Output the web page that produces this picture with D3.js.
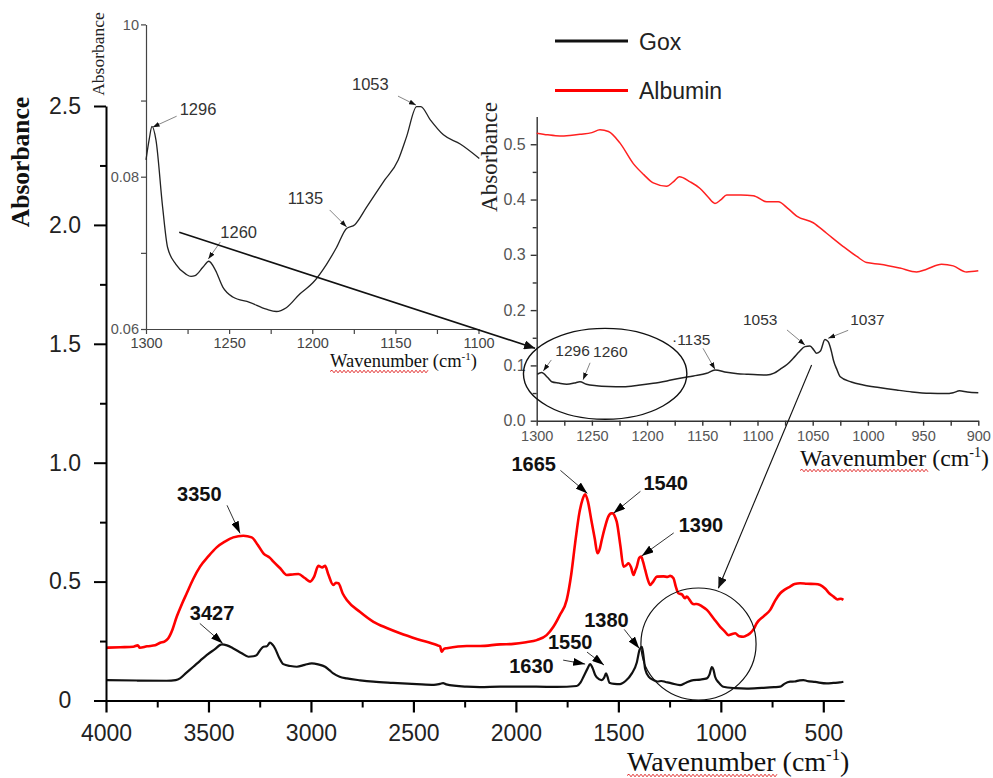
<!DOCTYPE html>
<html>
<head>
<meta charset="utf-8">
<script src="https://cdn.jsdelivr.net/npm/d3@7"></script>
<style>
  html, body { margin: 0; padding: 0; background: #fff; }
  svg { display: block; }
</style>
</head>
<body>
<svg id="chart" width="993" height="778"></svg>
<script>
// ---------- Full-range FTIR spectra (wavenumber, absorbance) ----------
const goxWavenumber = [3997,3850,3704,3660,3639,3610,3574,3540,3509,3470,3435,3410,3379,3340,3305,3280,3265,3245,3232,3215,3200,3188,3175,3155,3135,3100,3069,3030,2996,2965,2931,2910,2891,2860,2825,2760,2695,2600,2484,2400,2370,2355,2340,2240,2175,2077,2012,1900,1800,1703,1685,1670,1650,1638,1625,1613,1595,1581,1570,1560,1553,1544,1520,1492,1465,1434,1410,1397,1385,1375,1369,1350,1329,1310,1290,1270,1240,1199,1170,1134,1100,1068,1055,1044,1036,1028,1010,988,930,873,800,740,710,690,662,640,615,597,580,540,483,450,420,402];
const goxAbsorbance  = [0.086,0.084,0.083,0.086,0.093,0.115,0.142,0.168,0.191,0.215,0.236,0.232,0.219,0.200,0.184,0.186,0.191,0.215,0.226,0.228,0.243,0.235,0.219,0.180,0.153,0.145,0.142,0.150,0.156,0.152,0.142,0.128,0.114,0.100,0.093,0.085,0.079,0.074,0.069,0.066,0.070,0.073,0.068,0.058,0.056,0.058,0.058,0.058,0.057,0.061,0.075,0.100,0.135,0.153,0.135,0.107,0.090,0.086,0.095,0.114,0.100,0.075,0.070,0.069,0.082,0.114,0.160,0.212,0.226,0.170,0.131,0.098,0.086,0.080,0.082,0.078,0.072,0.065,0.075,0.086,0.088,0.093,0.110,0.140,0.130,0.100,0.075,0.058,0.052,0.050,0.053,0.056,0.058,0.070,0.079,0.080,0.085,0.086,0.082,0.078,0.072,0.074,0.076,0.079];

const albWavenumber = [3997,3930,3867,3845,3835,3800,3760,3736,3715,3696,3675,3655,3630,3606,3575,3541,3500,3460,3420,3379,3330,3289,3260,3232,3200,3183,3150,3118,3090,3061,3030,3004,2985,2964,2945,2931,2915,2891,2878,2866,2845,2825,2760,2695,2630,2565,2480,2386,2370,2362,2350,2337,2240,2175,2077,2012,1950,1898,1850,1817,1785,1752,1730,1711,1690,1675,1662,1648,1632,1615,1602,1590,1581,1565,1549,1535,1527,1515,1508,1490,1475,1460,1451,1438,1426,1418,1410,1398,1389,1380,1369,1355,1345,1330,1312,1280,1260,1247,1231,1220,1207,1190,1175,1166,1150,1141,1130,1117,1090,1068,1035,1003,980,963,945,930,910,890,870,857,840,825,790,759,735,710,690,662,640,613,580,540,515,490,470,450,430,415,402];
const albAbsorbance  = [0.222,0.224,0.226,0.232,0.222,0.228,0.232,0.243,0.248,0.262,0.300,0.352,0.405,0.451,0.510,0.563,0.607,0.644,0.668,0.686,0.693,0.686,0.655,0.619,0.600,0.584,0.556,0.528,0.530,0.532,0.515,0.500,0.520,0.566,0.560,0.566,0.530,0.486,0.495,0.493,0.450,0.423,0.372,0.331,0.305,0.283,0.258,0.233,0.228,0.205,0.218,0.220,0.229,0.229,0.236,0.238,0.245,0.254,0.275,0.310,0.360,0.423,0.530,0.661,0.790,0.845,0.867,0.835,0.759,0.680,0.619,0.640,0.675,0.730,0.773,0.787,0.787,0.770,0.752,0.650,0.563,0.570,0.577,0.560,0.528,0.545,0.563,0.600,0.605,0.585,0.549,0.505,0.486,0.500,0.521,0.522,0.520,0.524,0.514,0.480,0.451,0.446,0.430,0.437,0.420,0.409,0.405,0.406,0.395,0.381,0.345,0.310,0.290,0.275,0.280,0.283,0.270,0.268,0.275,0.283,0.300,0.325,0.355,0.381,0.420,0.451,0.465,0.479,0.490,0.493,0.491,0.490,0.486,0.470,0.450,0.437,0.425,0.428,0.423];

// ---------- Fingerprint region, 1300-900 cm-1 ----------
const regionWavenumber = [1299.5,1295.6,1290,1286.4,1280,1272.8,1266,1260.8,1255,1245.7,1235,1221.5,1208,1194.4,1182,1170.2,1158,1146,1138.5,1128,1118,1109.8,1100,1091.7,1085,1079.6,1073,1067.6,1062,1057,1052.5,1049,1046.5,1043,1038.9,1036,1033,1031.3,1028,1025.3,1015,1004.2,990,974,960,943.8,930,922.7,917,910,900];
const regionGox = [0.084,0.087,0.078,0.0705,0.068,0.066,0.068,0.0705,0.066,0.0633,0.062,0.0615,0.064,0.0676,0.072,0.0767,0.081,0.0857,0.0917,0.0875,0.085,0.084,0.083,0.0826,0.086,0.093,0.102,0.113,0.125,0.134,0.135,0.128,0.122,0.126,0.147,0.143,0.125,0.110,0.092,0.080,0.070,0.0646,0.060,0.0555,0.052,0.0495,0.049,0.0506,0.054,0.052,0.0506];
const regionAlbWavenumber = [1300,1290,1279,1270,1260.8,1250,1242.7,1235,1224.5,1212.5,1203,1194.4,1182.3,1176.3,1170.8,1161,1152,1145,1138.5,1133,1127.9,1115,1103.8,1091.7,1081.2,1072,1064.5,1049.5,1037.4,1022.3,1010,1001.1,989,971,955.9,946.8,933.3,922.7,910.6,900];
const regionAlbumin = [0.520,0.517,0.515,0.516,0.518,0.521,0.526,0.523,0.502,0.465,0.445,0.430,0.424,0.432,0.441,0.432,0.420,0.405,0.393,0.400,0.408,0.408,0.407,0.396,0.396,0.383,0.370,0.358,0.339,0.315,0.297,0.286,0.283,0.276,0.269,0.274,0.283,0.280,0.269,0.271];

// ---------- Close-up of the Gox band, 1300-1100 cm-1 ----------
const closeupWavenumber = [1300,1298,1296.4,1294,1290,1287,1282,1276,1272.9,1270.5,1265.8,1262.2,1258.2,1253.8,1247.8,1237.7,1227.6,1221.6,1215.6,1207.5,1199.5,1191.4,1185.4,1179.4,1174.4,1167.3,1157.3,1148.3,1143.2,1137.2,1134.7,1129.1,1121.1,1111,1099.5];
const closeupGox = [0.0822,0.0850,0.0866,0.0848,0.0760,0.0707,0.0685,0.0672,0.0669,0.0670,0.0681,0.0689,0.0677,0.0655,0.0642,0.0635,0.0626,0.0623,0.0628,0.0646,0.0661,0.0685,0.0707,0.0732,0.0737,0.0760,0.0793,0.0822,0.0853,0.0892,0.0892,0.0875,0.0855,0.0843,0.0824];

// ---------- Tick values ----------
const mainYTicks = [0, 0.5, 1.0, 1.5, 2.0, 2.5];
const mainYTickLabels = ["0", "0.5", "1.0", "1.5", "2.0", "2.5"];
const mainYMinor = [0.25, 0.75, 1.25, 1.75, 2.25];
const mainXTicks = [4000, 3500, 3000, 2500, 2000, 1500, 1000, 500];
const mainXMinor = [3750, 3250, 2750, 2250, 1750, 1250, 750];
const closeupYTicks = [0.06, 0.07, 0.08, 0.09, 0.10];
const closeupYLabels = ["0.06", "", "0.08", "", "10"];
const closeupXTicks = [1300, 1275, 1250, 1225, 1200, 1175, 1150, 1125, 1100];
const regionYTicks = [0, 0.1, 0.2, 0.3, 0.4, 0.5];
const regionYTickLabels = ["0.0", "0.1", "0.2", "0.3", "0.4", "0.5"];
const regionYMinor = [0.05, 0.15, 0.25, 0.35, 0.45];
const regionXTicks = [1300, 1275, 1250, 1225, 1200, 1175, 1150, 1125, 1100, 1075, 1050, 1025, 1000, 975, 950, 925, 900];

// ---------- Series names ----------
const seriesNames = ["Gox", "Albumin"];
const seriesColors = ["#111111", "#ff0000"];

// ---------- Peak labels ----------
const mainPeaks = [
  { text: "3350", wn: 3346, abs: 0.703, tail: [-13, -28], label: [-63, -32] },
  { text: "3427", wn: 3430, abs: 0.240, tail: [-23, -20], label: [-33, -23] },
  { text: "1665", wn: 1651, abs: 0.871, tail: [-27, -23], label: [-76, -22] },
  { text: "1540", wn: 1524, abs: 0.787, tail: [27, -22], label: [30, -23] },
  { text: "1390", wn: 1386, abs: 0.608, tail: [32, -23], label: [37, -24] },
  { text: "1380", wn: 1398, abs: 0.219, tail: [-15, -19], label: [-55, -21] },
  { text: "1550", wn: 1570, abs: 0.149, tail: [-17, -13], label: [-56, -16] },
  { text: "1630", wn: 1662, abs: 0.153, tail: [-22, -4], label: [-76, 9] }
];
const regionPeaks = [
  { text: "1296", wn: 1294, abs: 0.090, tail: [8, -11], label: [12, -15] },
  { text: "1260", wn: 1258, abs: 0.074, tail: [7, -17], label: [10, -23] },
  { text: "\u00b71135", wn: 1138.5, abs: 0.093, tail: [-12, -21], label: [-43, -24] },
  { text: "1053", wn: 1057, abs: 0.137, tail: [-18, -15], label: [-62, -20] },
  { text: "1037", wn: 1036, abs: 0.149, tail: [20, -8], label: [22, -13] }
];
const closeupPeaks = [
  { text: "1296", wn: 1296, abs: 0.0865, tail: [24, -11], label: [27, -12] },
  { text: "1260", wn: 1262.5, abs: 0.0692, tail: [12, -17], label: [12, -21] },
  { text: "1135", wn: 1179.3, abs: 0.0734, tail: [-17, -17], label: [-59, -23] },
  { text: "1053", wn: 1137.6, abs: 0.0894, tail: [-18, -9], label: [-64, -15] }
];

const SANS = "'Liberation Sans', Arial, sans-serif";
const SERIF = "'Liberation Serif', 'Times New Roman', serif";

const svg = d3.select("#chart");

// Arrowhead markers
const defs = svg.append("defs");
function marker(id, w, h, color) {
  defs.append("marker").attr("id", id)
    .attr("viewBox", `0 0 ${w} ${h}`).attr("refX", w).attr("refY", h / 2)
    .attr("markerWidth", w).attr("markerHeight", h).attr("markerUnits", "userSpaceOnUse")
    .attr("orient", "auto")
    .append("path").attr("d", `M0,0 L${w},${h / 2} L0,${h} Z`).attr("fill", color);
}
marker("headBig", 12, 8, "#000");
marker("headSmall", 7, 5, "#111");
marker("headCallout", 11, 9, "#111");

// Red wavy spell-check style underline
function squiggle(g, x0, x1, y) {
  let d = `M${x0},${y}`;
  let up = true;
  for (let x = x0 + 2; x <= x1; x += 2) { d += ` L${x},${y + (up ? -1.3 : 1.3)}`; up = !up; }
  g.append("path").attr("d", d).attr("fill", "none").attr("stroke", "#e02020").attr("stroke-width", 0.9);
}

function wavenumberTitle(g, x, y, size) {
  const t = g.append("text").attr("x", x).attr("y", y)
    .attr("font-family", SERIF).attr("font-size", size).attr("fill", "#111");
  t.append("tspan").text("Wavenumber (cm");
  t.append("tspan").text("-1").attr("font-size", size * 0.6).attr("dy", -size * 0.38);
  t.append("tspan").text(")").attr("dy", size * 0.38);
  return t;
}

function styleAxis(g, color, width) {
  g.selectAll(".domain").attr("stroke", color).attr("stroke-width", width);
  g.selectAll(".tick line").attr("stroke", color).attr("stroke-width", width);
}

// =============== Main spectrum ===============
const x = d3.scaleLinear().domain([4000, 398]).range([106, 844.2]);
const y = d3.scaleLinear().domain([0, 2.5]).range([700.5, 106]);
const main = svg.append("g");

const lineMain = d3.line().x(d => x(d[0])).y(d => y(d[1])).curve(d3.curveMonotoneX);
const goxMain = goxWavenumber.map((w, i) => [w, goxAbsorbance[i]]);
const albMain = albWavenumber.map((w, i) => [w, albAbsorbance[i]]);

main.append("path").datum(albMain).attr("d", lineMain)
  .attr("fill", "none").attr("stroke", seriesColors[1]).attr("stroke-width", 2.6).attr("stroke-linejoin", "round");
main.append("path").datum(goxMain).attr("d", lineMain)
  .attr("fill", "none").attr("stroke", seriesColors[0]).attr("stroke-width", 2.2).attr("stroke-linejoin", "round");

// Axes
const yAxisG = main.append("g").attr("transform", `translate(${x(4000)},0)`)
  .call(d3.axisLeft(y).tickValues(mainYTicks).tickSize(12).tickSizeOuter(0)
    .tickFormat((d, i) => mainYTickLabels[i]));
styleAxis(yAxisG, "#000", 2);
yAxisG.selectAll("text").attr("x", -41).attr("text-anchor", "middle")
  .attr("font-family", SANS).attr("font-size", 23).attr("fill", "#222");
const yMinorG = main.append("g").attr("transform", `translate(${x(4000)},0)`)
  .call(d3.axisLeft(y).tickValues(mainYMinor).tickSize(6).tickFormat(""));
yMinorG.select(".domain").remove();
styleAxis(yMinorG, "#000", 2);

const xAxisG = main.append("g").attr("transform", `translate(0,${y(0)})`)
  .call(d3.axisBottom(x).tickValues(mainXTicks).tickSize(12).tickSizeOuter(0).tickFormat(d3.format("d")));
styleAxis(xAxisG, "#000", 2.2);
xAxisG.selectAll("text").attr("y", 24)
  .attr("font-family", SANS).attr("font-size", 23).attr("fill", "#222");
const xMinorG = main.append("g").attr("transform", `translate(0,${y(0)})`)
  .call(d3.axisBottom(x).tickValues(mainXMinor).tickSize(7).tickFormat(""));
xMinorG.select(".domain").remove();
styleAxis(xMinorG, "#000", 2);

main.append("text").attr("transform", "translate(29,162) rotate(-90)")
  .attr("text-anchor", "middle").attr("font-family", SERIF).attr("font-weight", "bold")
  .attr("font-size", 25.5).attr("fill", "#111").text("Absorbance");
wavenumberTitle(main, 627, 771, 28);
squiggle(main, 627, 777, 775.5);

// Peak labels on the full spectrum
mainPeaks.forEach(p => {
  const tx = x(p.wn), ty = y(p.abs);
  main.append("line").attr("x1", tx + p.tail[0]).attr("y1", ty + p.tail[1])
    .attr("x2", tx).attr("y2", ty).attr("stroke", "#333").attr("stroke-width", 1)
    .attr("marker-end", "url(#headBig)");
  main.append("text").attr("x", tx + p.label[0]).attr("y", ty + p.label[1])
    .attr("font-family", SANS).attr("font-weight", "bold").attr("font-size", 20)
    .attr("fill", "#111").text(p.text);
});

// Legend
const legend = svg.append("g");
seriesNames.forEach((name, i) => {
  const ly = [41, 90.5][i];
  legend.append("line").attr("x1", 555).attr("x2", 628).attr("y1", ly).attr("y2", ly)
    .attr("stroke", seriesColors[i]).attr("stroke-width", 2.8);
  legend.append("text").attr("x", 639).attr("y", ly + 8.5)
    .attr("font-family", SANS).attr("font-size", 23).attr("fill", "#222").text(name);
});

// =============== Close-up inset (Gox, 1300-1100) ===============
const xL = d3.scaleLinear().domain([1300, 1100]).range([146, 478.5]);
const yL = d3.scaleLinear().domain([0.06, 0.10]).range([329, 24.4]);
const closeup = svg.append("g");

const cyAxis = closeup.append("g").attr("transform", `translate(${xL(1300)},0)`)
  .call(d3.axisLeft(yL).tickValues(closeupYTicks).tickSize(5).tickSizeOuter(0)
    .tickFormat((d, i) => closeupYLabels[i]));
styleAxis(cyAxis, "#444", 1.2);
cyAxis.selectAll("text").attr("x", -7).attr("font-family", SANS).attr("font-size", 14.5).attr("fill", "#555");
const cxAxis = closeup.append("g").attr("transform", `translate(0,${yL(0.06)})`)
  .call(d3.axisBottom(xL).tickValues(closeupXTicks).tickSize(5).tickSizeOuter(0)
    .tickFormat(d => d % 50 === 0 ? d : ""));
styleAxis(cxAxis, "#444", 1.2);
cxAxis.selectAll("text").attr("y", 9).attr("font-family", SANS).attr("font-size", 14.5).attr("fill", "#444");

const lineL = d3.line().x(d => xL(d[0])).y(d => yL(d[1])).curve(d3.curveMonotoneX);
closeup.append("path").datum(closeupWavenumber.map((w, i) => [w, closeupGox[i]])).attr("d", lineL)
  .attr("fill", "none").attr("stroke", "#222").attr("stroke-width", 1.3);

closeup.append("text").attr("transform", "translate(104,54) rotate(-90)")
  .attr("text-anchor", "middle").attr("font-family", SERIF).attr("font-size", 17.5)
  .attr("fill", "#222").text("Absorbance");
wavenumberTitle(closeup, 330, 367, 18.5);
squiggle(closeup, 330, 429, 371.5);

closeupPeaks.forEach(p => {
  const tx = xL(p.wn), ty = yL(p.abs);
  closeup.append("line").attr("x1", tx + p.tail[0]).attr("y1", ty + p.tail[1])
    .attr("x2", tx).attr("y2", ty).attr("stroke", "#666").attr("stroke-width", 0.8)
    .attr("marker-end", "url(#headSmall)");
  closeup.append("text").attr("x", tx + p.label[0]).attr("y", ty + p.label[1])
    .attr("font-family", SANS).attr("font-size", 16.5).attr("fill", "#333").text(p.text);
});

// =============== Fingerprint inset (1300-900) ===============
const xR = d3.scaleLinear().domain([1300, 900]).range([536.7, 978.3]);
const yR = d3.scaleLinear().domain([0, 0.55]).range([420.7, 116.6]);
const region = svg.append("g");

const ryAxis = region.append("g").attr("transform", `translate(${xR(1300)},0)`)
  .call(d3.axisLeft(yR).tickValues(regionYTicks).tickSize(6).tickSizeOuter(0)
    .tickFormat((d, i) => regionYTickLabels[i]));
styleAxis(ryAxis, "#333", 1.4);
ryAxis.selectAll("text").attr("x", -11).attr("font-family", SANS).attr("font-size", 16).attr("fill", "#555");
const ryMinor = region.append("g").attr("transform", `translate(${xR(1300)},0)`)
  .call(d3.axisLeft(yR).tickValues(regionYMinor).tickSize(4).tickFormat(""));
ryMinor.select(".domain").remove();
styleAxis(ryMinor, "#333", 1.4);
const rxAxis = region.append("g").attr("transform", `translate(0,${yR(0)})`)
  .call(d3.axisBottom(xR).tickValues(regionXTicks).tickSize(5).tickSizeOuter(0)
    .tickFormat(d => d % 50 === 0 ? d : ""));
styleAxis(rxAxis, "#333", 1.4);
rxAxis.selectAll("text").attr("y", 10).attr("font-family", SANS).attr("font-size", 14.5).attr("fill", "#555");

const lineR = d3.line().x(d => xR(d[0])).y(d => yR(d[1])).curve(d3.curveMonotoneX);
region.append("path").datum(regionAlbWavenumber.map((w, i) => [w, regionAlbumin[i]])).attr("d", lineR)
  .attr("fill", "none").attr("stroke", "#ff2020").attr("stroke-width", 1.5);
region.append("path").datum(regionWavenumber.map((w, i) => [w, regionGox[i]])).attr("d", lineR)
  .attr("fill", "none").attr("stroke", "#222").attr("stroke-width", 1.5);

region.append("text").attr("transform", "translate(497,157) rotate(-90)")
  .attr("text-anchor", "middle").attr("font-family", SERIF).attr("font-size", 23)
  .attr("fill", "#222").text("Absorbance");
wavenumberTitle(region, 800, 466, 23.8);
squiggle(region, 800, 928, 470.5);

regionPeaks.forEach(p => {
  const tx = xR(p.wn), ty = yR(p.abs);
  region.append("line").attr("x1", tx + p.tail[0]).attr("y1", ty + p.tail[1])
    .attr("x2", tx).attr("y2", ty).attr("stroke", "#666").attr("stroke-width", 0.8)
    .attr("marker-end", "url(#headSmall)");
  region.append("text").attr("x", tx + p.label[0]).attr("y", ty + p.label[1])
    .attr("font-family", SANS).attr("font-size", 15.5).attr("fill", "#333").text(p.text);
});

// =============== Callouts linking the panels ===============
const callouts = svg.append("g").attr("fill", "none").attr("stroke", "#111");
// ellipse around the 1300-1170 band in the fingerprint panel
const e1 = { x0: xR(1312), x1: xR(1164), y0: yR(0.167), y1: yR(0.0025) };
callouts.append("ellipse").attr("cx", (e1.x0 + e1.x1) / 2).attr("cy", (e1.y0 + e1.y1) / 2)
  .attr("rx", (e1.x1 - e1.x0) / 2).attr("ry", (e1.y1 - e1.y0) / 2).attr("stroke-width", 1.4);
// circle around the 1390-830 range of the full spectrum
const e2 = { x0: x(1390), x1: x(828), y0: y(0.473), y1: y(0.002) };
callouts.append("ellipse").attr("cx", (e2.x0 + e2.x1) / 2).attr("cy", (e2.y0 + e2.y1) / 2)
  .attr("rx", (e2.x1 - e2.x0) / 2).attr("ry", (e2.y1 - e2.y0) / 2).attr("stroke-width", 1.2);
// close-up -> fingerprint ellipse
callouts.append("line").attr("x1", xL(1280)).attr("y1", yL(0.0727))
  .attr("x2", xR(1301.5)).attr("y2", yR(0.131)).attr("stroke-width", 1.6)
  .attr("marker-end", "url(#headCallout)");
// fingerprint 1050 band -> full-spectrum circle
callouts.append("line").attr("x1", xR(1051)).attr("y1", yR(0.1007))
  .attr("x2", x(1012)).attr("y2", y(0.472)).attr("stroke-width", 1.1)
  .attr("marker-end", "url(#headCallout)");
</script>
</body>
</html>
